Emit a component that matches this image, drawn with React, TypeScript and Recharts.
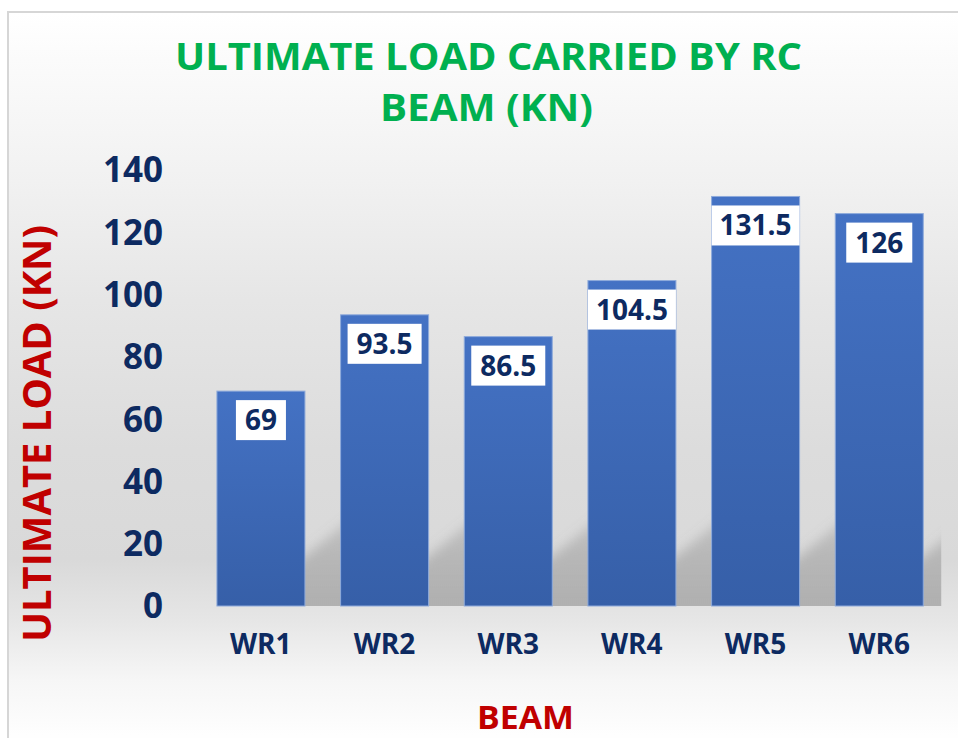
import React from 'react';
import { BarChart, Bar, XAxis, YAxis, LabelList } from 'recharts';

const categories = ['WR1', 'WR2', 'WR3', 'WR4', 'WR5', 'WR6'];
const loads = [69, 93.5, 86.5, 104.5, 131.5, 126];
const yTicks = [0, 20, 40, 60, 80, 100, 120, 140];
const titleLines = ['ULTIMATE LOAD CARRIED BY RC', 'BEAM (KN)'];
const xTitle = 'BEAM';
const yTitle = 'ULTIMATE LOAD (KN)';

const data = categories.map((c, i) => ({ name: c, load: loads[i] }));

const NAVY = '#0d2a61';
const GREEN = '#00b050';
const RED = '#c00000';
const FONT = "'Open Sans', 'DejaVu Sans', sans-serif";

let measureCtx: CanvasRenderingContext2D | null = null;
function measure(text: string, size: number): number {
  try {
    if (!measureCtx) {
      const c = document.createElement('canvas');
      measureCtx = c.getContext('2d');
    }
    if (measureCtx) {
      measureCtx.font = `bold ${size}px 'Open Sans'`;
      return measureCtx.measureText(text).width;
    }
  } catch (e) {}
  return text.length * size * 0.56;
}

const BarShape = (props: any) => {
  const { x, y, width, height, index } = props;
  if (width == null || height == null) return null;
  const base = y + height;
  const right = x + width;
  const pad = (width * 14.5) / 71;
  const start = 50;
  const slope = 0.8;
  const D = 2 * pad + 14;
  const lineY = (X: number) => base - start - (X - right) * slope;
  const xl = right - 40;
  const xr = right + D;
  const pts = `${xl},${base + 30} ${xr},${base + 30} ${xr},${lineY(xr)} ${xl},${lineY(xl)}`;
  const isLast = index === categories.length - 1;
  const clipId = `shclip-${index}`;
  const clipRight = isLast ? right + pad : right + 2 * pad + 2;
  return (
    <g>
      <clipPath id={clipId}>
        <rect x={x} y={base - 300} width={clipRight - x} height={300} />
      </clipPath>
      <g clipPath={`url(#${clipId})`}>
        <polygon points={pts} fill="url(#shadowGrad)" filter="url(#shadowBlur)" />
      </g>
      <rect
        x={x}
        y={y}
        width={width}
        height={height}
        fill="url(#barGrad)"
        stroke="#8eaadb"
        strokeWidth={1}
      />
    </g>
  );
};

const ValueLabel = (props: any) => {
  const { x, y, width, value } = props;
  const fs = 28;
  const txt = String(value);
  const tw = measure(txt, fs);
  const bw = Math.min(width, tw + 18);
  const cx = x + width / 2;
  const by = y + 9;
  return (
    <g>
      <rect x={cx - bw / 2} y={by} width={bw} height={40} fill="#ffffff" />
      <text
        x={cx}
        y={by + 30}
        textAnchor="middle"
        fontFamily={FONT}
        fontWeight={700}
        fontSize={fs}
        fill={NAVY}
      >
        {txt}
      </text>
    </g>
  );
};

export default function App() {
  return (
    <div
      style={{
        position: 'absolute',
        left: 0,
        top: 0,
        width: 958,
        height: 738,
        overflow: 'hidden',
        background: '#ffffff',
      }}
    >
      <div
        style={{
          position: 'absolute',
          left: 7,
          top: 11,
          width: 1000,
          height: 800,
          borderLeft: '2px solid #d6d6d6',
          borderTop: '2px solid #d6d6d6',
          background:
            'linear-gradient(to bottom, #ffffff 0px, #fbfbfb 47px, #f2f2f2 157px, #e6e6e6 287px, #dcdcdc 437px, #d9d9d9 547px, #e6e6e6 607px, #f6f6f6 667px, #fefefe 722px)',
        }}
      />
      <div style={{ position: 'absolute', left: 0, top: 0 }}>
        <BarChart
          width={958}
          height={738}
          data={data}
          margin={{ top: 170, right: 17, bottom: 0, left: 0 }}
          barCategoryGap="14.5%"
        >
          <defs>
            <linearGradient id="barGrad" x1="0" y1="0" x2="0" y2="1">
              <stop offset="0%" stopColor="#4472c4" />
              <stop offset="100%" stopColor="#365fa8" />
            </linearGradient>
            <linearGradient id="shadowGrad" x1="0" y1="0" x2="0" y2="1">
              <stop offset="0%" stopColor="#8a8a8a" stopOpacity={0.3} />
              <stop offset="60%" stopColor="#858585" stopOpacity={0.5} />
              <stop offset="100%" stopColor="#808080" stopOpacity={0.58} />
            </linearGradient>
            <filter id="shadowBlur" x="-50%" y="-50%" width="200%" height="200%">
              <feGaussianBlur stdDeviation="6" />
            </filter>
          </defs>
          <XAxis
            dataKey="name"
            height={132}
            axisLine={false}
            tickLine={false}
            tickSize={0}
            tickMargin={28}
            interval={0}
            tick={{ fill: NAVY, fontSize: 28, fontWeight: 700, fontFamily: FONT }}
          />
          <YAxis
            domain={[0, 140]}
            ticks={yTicks}
            interval={0}
            width={199}
            axisLine={false}
            tickLine={false}
            tickSize={0}
            tickMargin={36}
            tick={{ fill: NAVY, fontSize: 35, fontWeight: 700, fontFamily: FONT }}
          />
          <Bar dataKey="load" isAnimationActive={false} shape={<BarShape />}>
            <LabelList dataKey="load" content={<ValueLabel />} />
          </Bar>
        </BarChart>
      </div>
      <svg
        width={958}
        height={738}
        style={{ position: 'absolute', left: 0, top: 0, pointerEvents: 'none' }}
      >
        <text
          x={488.5}
          y={70}
          textAnchor="middle"
          fontFamily={FONT}
          fontWeight={700}
          fontSize={38}
          fill={GREEN}
          textLength={627}
          lengthAdjust="spacingAndGlyphs"
        >
          {titleLines[0]}
        </text>
        <text
          x={486.5}
          y={121}
          textAnchor="middle"
          fontFamily={FONT}
          fontWeight={700}
          fontSize={38}
          fill={GREEN}
          textLength={213}
          lengthAdjust="spacingAndGlyphs"
        >
          {titleLines[1]}
        </text>
        <text
          x={0}
          y={0}
          transform="translate(51 433.5) rotate(-90)"
          textAnchor="middle"
          fontFamily={FONT}
          fontWeight={700}
          fontSize={40}
          fill={RED}
          textLength={417}
          lengthAdjust="spacingAndGlyphs"
        >
          {yTitle}
        </text>
        <text
          x={525.5}
          y={729}
          textAnchor="middle"
          fontFamily={FONT}
          fontWeight={700}
          fontSize={33}
          fill={RED}
          textLength={97}
          lengthAdjust="spacingAndGlyphs"
        >
          {xTitle}
        </text>
      </svg>
    </div>
  );
}
